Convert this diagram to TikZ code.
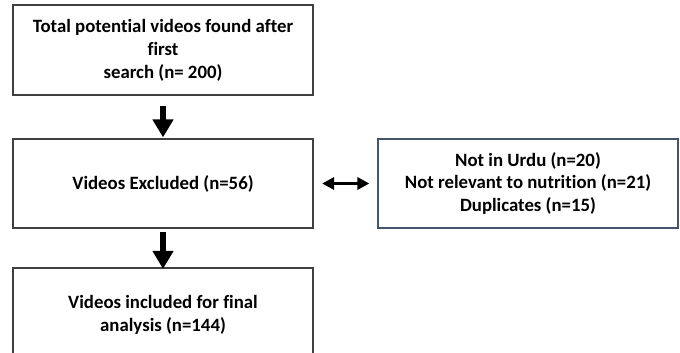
\documentclass[tikz,border=0pt]{standalone}
\usepackage{fontspec}
\setmainfont{Carlito}[Ligatures=NoCommon]
\usetikzlibrary{arrows.meta}
\definecolor{boxgray}{RGB}{64,64,64}
\definecolor{boxblue}{RGB}{68,84,106}
\tikzset{
  x=1pt, y=-1pt,
  flowbox/.style={draw=boxgray, line width=1.2pt, minimum width=300pt, minimum height=89pt,
    align=center, inner sep=0pt, font=\fontsize{18.8}{23}\selectfont\bfseries},
  sidebox/.style={flowbox, draw=boxblue, font=\fontsize{18.8}{22}\selectfont\bfseries},
  bigarrow/.style={line width=6pt, -{Triangle[length=18pt,width=20pt]}},
  duoarrow/.style={line width=3.5pt, {Triangle[length=12pt,width=12pt]}-{Triangle[length=12pt,width=12pt]}}
}
\begin{document}
\begin{tikzpicture}
\useasboundingbox (0,0) rectangle (680,353);
\clip (0,0) rectangle (680,353);
\node[flowbox, minimum height=90pt] (b1) at (163,50) {Total potential videos found after\\first\\search (n= 200)};
\node[flowbox] (b2) at (163,183.5) {Videos Excluded (n=56)};
\node[flowbox, minimum height=93pt] (b3) at (163,314.5) {Videos included for final\\analysis (n=144)};
\node[sidebox] (r) at (528,183.5) {Not in Urdu (n=20)\\Not relevant to nutrition (n=21)\\Duplicates (n=15)};
\draw[bigarrow, shorten <=10.5pt, shorten >=1pt] (b1.south) -- (b2.north);
\draw[bigarrow, shorten <=3.5pt, shorten >=-1.5pt] (b2.south) -- (b3.north);
\draw[duoarrow, shorten <=8.5pt, shorten >=8pt] (b2.east) -- (r.west);
\end{tikzpicture}
\end{document}
